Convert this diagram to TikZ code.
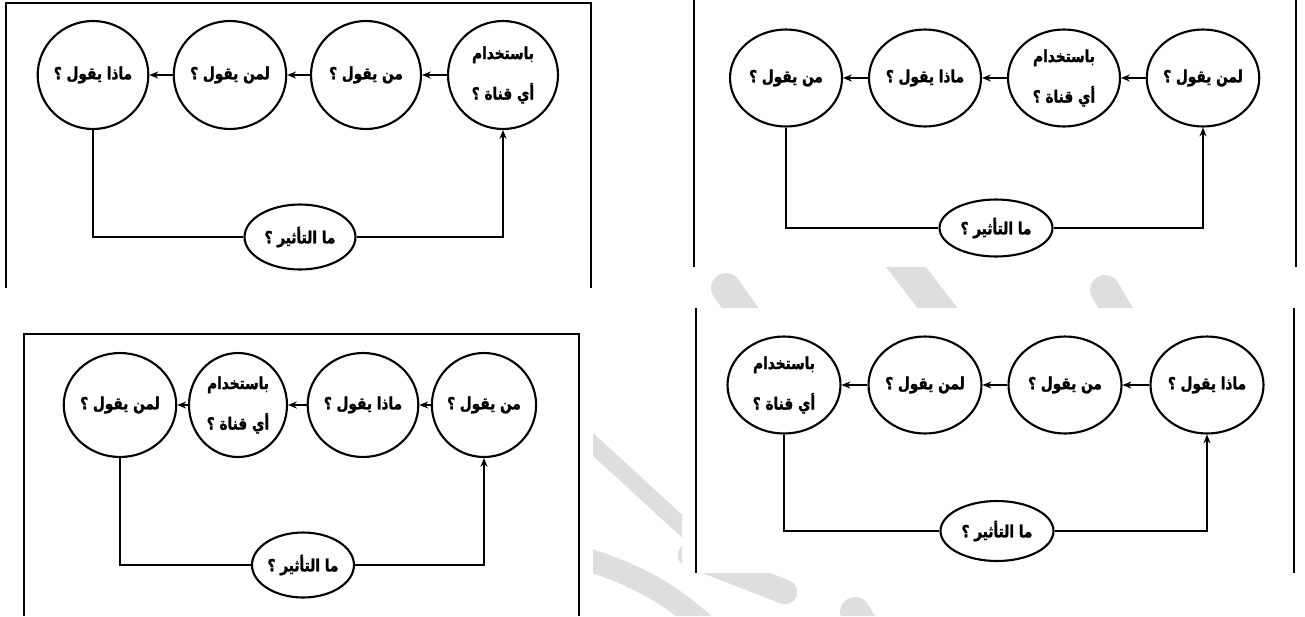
\documentclass[tikz,border=0pt]{standalone}
\usepackage{fontspec}
\usepackage{tikz}
\usetikzlibrary{shapes,arrows,positioning,calc,arrows.meta}
\newfontfamily\arabicfont[Script=Arabic, FakeStretch=0.82, FakeBold=1.6]{DejaVu Sans}
\TeXXeTstate=1
\newcommand{\rtl}[1]{\beginR #1\endR}

\begin{document}
\begin{tikzpicture}[x=0.02cm, y=-0.02cm,
    stage/.style={ellipse, draw, line width=1.2pt, inner sep=0pt,
        font=\arabicfont\bfseries\fontsize{9.5}{23}\selectfont, align=center},
    frame/.style={line width=1pt},
    link/.style={line width=0.9pt},
    wm/.style={draw=gray!26, line cap=round},
    >={Stealth[length=5pt,width=4pt]}]
    \useasboundingbox (0,0) rectangle (1305,616);

    % watermark stripes, seen only between the panels
    \begin{scope}
        \clip (683,267) rectangle (1305,308) (593,290) rectangle (682,616) (682,573) rectangle (1305,616);
        \draw [wm, line width=17pt] (726,288) -- (770,350);
        \draw [wm, line width=18pt] (885,240) -- (970,350);
        \draw [wm, line width=17pt] (1105,290) -- (1140,350);
        \draw [wm, line width=9.6pt] (560,414) -- (720,561);
        \draw [wm, line width=13pt] (560,552) .. controls (640,572) and (680,600) .. (720,640);
        \draw [wm, line width=14pt] (690,555) -- (785,592);
        \draw [wm, line width=17pt] (855,612) -- (885,660);
    \end{scope}

    % top left
    \draw [frame] (6,288) -- (6,3) -- (591,3) -- (591,288);
    \begin{scope}[stage/.append style={minimum width=2.2cm, minimum height=2.16cm}]
        \node [stage] (a1) at (93,75) {\rtl{ماذا يقول ؟}};
        \node [stage] (a2) at (230,75) {\rtl{لمن يقول ؟}};
        \node [stage] (a3) at (366,75) {\rtl{من يقول ؟}};
        \node [stage] (a4) at (503,75) {\rtl{باستخدام}\\\rtl{أي قناة ؟}};
    \end{scope}
    \node [stage, minimum width=2.22cm, minimum height=1.3cm] (ae) at (300,237) {\rtl{ما التأثير ؟}};
    \draw [->, link] (a2) -- (a1);
    \draw [->, link] (a3) -- (a2);
    \draw [->, link] (a4) -- (a3);
    \draw [link] (a1) |- (ae);
    \draw [->, link] (ae) -| (a4);

    % top right
    \draw [frame] (694,0) -- (694,267);
    \draw [frame] (1296,0) -- (1296,267);
    \begin{scope}[stage/.append style={minimum width=2.24cm, minimum height=1.94cm}]
        \node [stage] (b1) at (786,78) {\rtl{من يقول ؟}};
        \node [stage] (b2) at (925,78) {\rtl{ماذا يقول ؟}};
        \node [stage] (b3) at (1064,78) {\rtl{باستخدام}\\\rtl{أي قناة ؟}};
        \node [stage] (b4) at (1203,78) {\rtl{لمن يقول ؟}};
    \end{scope}
    \node [stage, minimum width=2.26cm, minimum height=1.14cm] (be) at (996,228) {\rtl{ما التأثير ؟}};
    \draw [->, link] (b2) -- (b1);
    \draw [->, link] (b3) -- (b2);
    \draw [->, link] (b4) -- (b3);
    \draw [link] (b1) |- (be);
    \draw [->, link] (be) -| (b4);

    % bottom left
    \draw [frame] (24,616) -- (24,334) -- (579,334) -- (579,616);
    \begin{scope}[stage/.append style={minimum width=1.96cm, minimum height=2.08cm}]
        \node [stage] (c1) at (120,405) {\rtl{لمن يقول ؟}};
        \node [stage] (c2) at (238,405) {\rtl{باستخدام}\\\rtl{أي قناة ؟}};
        \node [stage] (c3) at (363,405) {\rtl{ماذا يقول ؟}};
        \node [stage] (c4) at (484,405) {\rtl{من يقول ؟}};
    \end{scope}
    \node [stage, minimum width=2.04cm, minimum height=1.3cm] (ce) at (303,565) {\rtl{ما التأثير ؟}};
    \draw [->, link] (c2) -- (c1);
    \draw [->, link] (c3) -- (c2);
    \draw [->, link] (c4) -- (c3);
    \draw [link] (c1) |- (ce);
    \draw [->, link] (ce) -| (c4);

    % bottom right
    \draw [frame] (696,308) -- (696,573);
    \draw [frame] (1294,308) -- (1294,573);
    \begin{scope}[stage/.append style={minimum width=2.26cm, minimum height=1.94cm}]
        \node [stage] (d1) at (784,385) {\rtl{باستخدام}\\\rtl{أي قناة ؟}};
        \node [stage] (d2) at (925,385) {\rtl{لمن يقول ؟}};
        \node [stage] (d3) at (1065,385) {\rtl{من يقول ؟}};
        \node [stage] (d4) at (1207,385) {\rtl{ماذا يقول ؟}};
    \end{scope}
    \node [stage, minimum width=2.26cm, minimum height=1.2cm] (de) at (997,531) {\rtl{ما التأثير ؟}};
    \draw [->, link] (d2) -- (d1);
    \draw [->, link] (d3) -- (d2);
    \draw [->, link] (d4) -- (d3);
    \draw [link] (d1) |- (de);
    \draw [->, link] (de) -| (d4);
\end{tikzpicture}
\end{document}
